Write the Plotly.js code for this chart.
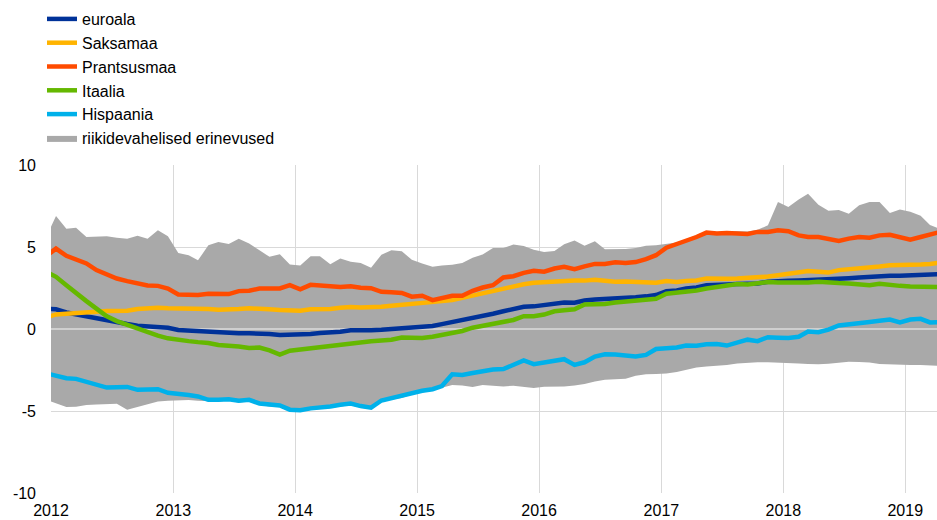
<!DOCTYPE html>
<html>
<head>
<meta charset="utf-8">
<script src="https://cdn.plot.ly/plotly-3.0.1.min.js"></script>
<style>
html,body{margin:0;padding:0;background:#fff;}
#chart{width:937px;height:520px;}
</style>
</head>
<body>
<div id="chart"></div>
<script>
// Monthly observations, December 2011 to April 2019 (plotted mid-month)
const firstMonth = [2011, 12];
const lastMonth = [2019, 4];

const seriesNames = ["euroala", "Saksamaa", "Prantsusmaa", "Itaalia", "Hispaania"];
const bandName = "riikidevahelised erinevused";

const euroala = [1.24,1.2,1.01,0.89,0.77,0.61,0.49,0.41,0.3,0.2,0.18,0.16,0.08,
 -0.06,-0.1,-0.16,-0.2,-0.22,-0.26,-0.26,-0.26,-0.26,-0.3,-0.36,-0.36,
 -0.34,-0.3,-0.25,-0.22,-0.17,-0.08,-0.1,-0.08,-0.05,0.0,0.06,0.1,
 0.16,0.18,0.3,0.42,0.55,0.63,0.8,0.93,1.08,1.22,1.36,1.38,
 1.44,1.55,1.62,1.6,1.74,1.8,1.82,1.84,1.88,1.93,1.99,2.07,
 2.31,2.35,2.47,2.53,2.67,2.67,2.72,2.74,2.74,2.78,2.88,2.94,
 2.94,2.96,2.98,2.98,3.02,3.06,3.1,3.14,3.18,3.24,3.24,3.24,
 3.26,3.28,3.3,3.34];

const saksamaa = [0.69,0.89,0.93,0.99,1.03,1.05,1.09,1.11,1.11,1.22,1.26,1.3,1.26,
 1.26,1.2,1.22,1.22,1.18,1.17,1.22,1.26,1.26,1.2,1.16,1.16,
 1.12,1.2,1.2,1.22,1.3,1.34,1.31,1.32,1.35,1.42,1.49,1.52,
 1.56,1.63,1.7,1.76,1.9,2.03,2.22,2.37,2.51,2.61,2.73,2.82,
 2.86,2.92,2.97,2.95,2.95,3.01,2.94,2.88,2.9,2.88,2.84,2.82,
 2.92,2.86,2.92,2.96,3.08,3.04,3.06,3.08,3.1,3.12,3.2,3.28,
 3.36,3.44,3.53,3.49,3.44,3.59,3.63,3.71,3.75,3.81,3.89,3.89,
 3.93,3.93,3.97,4.05];

const prantsusmaa = [4.42,4.9,4.46,4.26,4.0,3.59,3.34,3.08,2.92,2.78,2.65,2.63,2.47,
 2.1,2.07,2.07,2.15,2.17,2.13,2.31,2.33,2.47,2.47,2.47,2.67,
 2.42,2.69,2.66,2.61,2.56,2.6,2.51,2.49,2.27,2.24,2.2,1.97,
 2.03,1.76,1.86,2.03,2.03,2.33,2.53,2.67,3.14,3.22,3.42,3.55,
 3.49,3.69,3.79,3.65,3.82,3.97,3.97,4.07,4.02,4.08,4.26,4.5,
 4.96,5.17,5.37,5.61,5.88,5.82,5.86,5.86,5.8,5.92,5.92,6.02,
 5.96,5.71,5.61,5.61,5.47,5.37,5.51,5.61,5.57,5.71,5.75,5.61,
 5.45,5.61,5.75,5.92];

const itaalia = [3.5,3.18,2.67,2.17,1.7,1.24,0.78,0.48,0.25,0.0,-0.2,-0.41,-0.57,
 -0.68,-0.74,-0.8,-0.85,-0.98,-1.01,-1.07,-1.16,-1.13,-1.3,-1.56,-1.32,
 -1.24,-1.2,-1.1,-1.06,-1.0,-0.87,-0.82,-0.75,-0.7,-0.65,-0.52,-0.52,
 -0.55,-0.47,-0.36,-0.24,-0.12,0.08,0.2,0.3,0.38,0.55,0.78,0.78,
 0.88,1.08,1.14,1.2,1.5,1.52,1.52,1.62,1.66,1.7,1.76,1.84,
 2.15,2.21,2.33,2.35,2.47,2.57,2.67,2.74,2.72,2.8,2.86,2.84,
 2.82,2.8,2.84,2.88,2.82,2.8,2.78,2.74,2.67,2.76,2.67,2.63,
 2.59,2.59,2.57,2.55];

const hispaania = [-2.7,-2.82,-3.0,-3.04,-3.24,-3.38,-3.57,-3.55,-3.53,-3.71,-3.69,-3.67,-3.89,
 -3.93,-4.03,-4.11,-4.32,-4.32,-4.28,-4.38,-4.32,-4.54,-4.62,-4.66,-4.92,
 -4.95,-4.84,-4.8,-4.72,-4.62,-4.55,-4.7,-4.8,-4.36,-4.2,-4.1,-3.9,
 -3.77,-3.67,-3.48,-2.76,-2.8,-2.68,-2.55,-2.47,-2.44,-2.2,-1.92,-2.14,
 -2.05,-1.99,-1.84,-2.19,-2.03,-1.68,-1.54,-1.56,-1.6,-1.68,-1.58,-1.22,
 -1.18,-1.13,-1.01,-1.02,-0.93,-0.91,-1.01,-0.8,-0.65,-0.74,-0.5,-0.53,
 -0.55,-0.47,-0.16,-0.2,-0.04,0.22,0.27,0.32,0.43,0.5,0.58,0.4,
 0.58,0.62,0.4,0.42];

const bandMax = [5.55,6.89,6.12,6.18,5.61,5.65,5.65,5.57,5.51,5.69,5.51,6.02,5.65,
 4.64,4.5,4.19,5.1,5.31,5.19,5.51,5.21,4.8,4.4,4.56,3.93,
 3.87,4.44,4.44,3.95,4.3,4.1,4.03,3.74,4.52,4.8,4.74,4.22,
 3.99,3.8,3.87,3.92,4.02,4.35,4.55,4.94,4.94,5.15,5.06,4.83,
 4.7,4.75,5.17,5.4,5.07,5.35,4.86,4.86,4.88,4.94,5.07,5.11,
 5.18,5.27,5.47,5.71,5.98,5.92,5.96,5.96,5.95,6.05,6.32,7.74,
 7.44,7.9,8.25,7.57,7.21,7.26,7.03,7.54,7.74,7.74,7.07,7.28,
 7.15,6.9,6.34,6.1];

const bandMin = [-4.3,-4.54,-4.76,-4.74,-4.64,-4.6,-4.56,-4.56,-4.92,-4.75,-4.58,-4.42,-4.38,
 -4.35,-4.33,-4.38,-4.42,-4.42,-4.38,-4.48,-4.42,-4.64,-4.72,-4.76,-5.02,
 -5.05,-4.94,-4.9,-4.82,-4.72,-4.65,-4.8,-4.9,-4.46,-4.3,-4.2,-4.0,
 -3.87,-3.77,-3.58,-3.42,-3.45,-3.53,-3.42,-3.45,-3.5,-3.46,-3.55,-3.6,
 -3.52,-3.53,-3.5,-3.45,-3.36,-3.2,-3.1,-3.06,-3.04,-2.85,-2.76,-2.75,
 -2.72,-2.62,-2.5,-2.35,-2.28,-2.24,-2.2,-2.1,-2.05,-2.03,-2.02,-2.06,
 -2.08,-2.1,-2.13,-2.15,-2.12,-2.05,-2.0,-2.01,-2.05,-2.14,-2.17,-2.2,
 -2.19,-2.2,-2.22,-2.25];

const yTickVals = [-10, -5, 0, 5, 10];
const yTickText = ["-10", "-5", "0", "5", "10"];

const colors = ["#003299", "#FFB400", "#FF4B00", "#65B800", "#00B1EA"];
const bandColor = "#A9A9A9";

// month categories (mid-month dates)
function buildDates(start, end) {
  const out = [];
  let y = start[0], m = start[1];
  while (y < end[0] || (y === end[0] && m <= end[1])) {
    out.push(y + "-" + String(m).padStart(2, "0") + "-16");
    m++; if (m > 12) { m = 1; y++; }
  }
  return out;
}
const dates = buildDates(firstMonth, lastMonth);

const traces = [];
traces.push({
  x: dates, y: bandMin, type: "scatter", mode: "lines",
  line: {width: 0, color: bandColor}, showlegend: false, hoverinfo: "skip"
});
traces.push({
  x: dates, y: bandMax, type: "scatter", mode: "lines", fill: "tonexty",
  fillcolor: bandColor, line: {width: 0, color: bandColor},
  name: bandName, legendrank: 6
});
// zero line drawn over the band but under the series
traces.push({
  x: [dates[0], dates[dates.length - 1]], y: [0, 0], type: "scatter", mode: "lines",
  line: {width: 1.5, color: "#dcdcdc"}, showlegend: false, hoverinfo: "skip"
});
const allSeries = [euroala, saksamaa, prantsusmaa, itaalia, hispaania];
allSeries.forEach((vals, i) => {
  traces.push({
    x: dates, y: vals, type: "scatter", mode: "lines",
    name: seriesNames[i], legendrank: i + 1,
    line: {color: colors[i], width: 4.5}
  });
});

const layout = {
  width: 937, height: 520,
  margin: {l: 51, r: 0, t: 165, b: 27, pad: 0, autoexpand: false},
  paper_bgcolor: "#ffffff", plot_bgcolor: "#ffffff",
  font: {family: "Liberation Sans, Arial, sans-serif", size: 16, color: "#000000"},
  showlegend: true,
  legend: {
    xref: "container", yref: "container", x: 42 / 937, y: 1 - 2 / 520,
    xanchor: "left", yanchor: "top",
    traceorder: "normal", itemwidth: 30,
    font: {size: 16, color: "#000000"}, bgcolor: "rgba(0,0,0,0)"
  },
  xaxis: {
    type: "date", range: ["2012-01-01", "2019-04-06"],
    dtick: "M12", tick0: "2012-01-01", tickformat: "%Y",
    showgrid: true, gridcolor: "#d9d9d9", gridwidth: 1,
    zeroline: false, showline: false, ticks: "",
    ticklabelstandoff: 6,
    tickfont: {size: 16, color: "#000000"}
  },
  yaxis: {
    range: [-10, 10], tickvals: yTickVals, ticktext: yTickText,
    showgrid: true, gridcolor: "#d9d9d9", gridwidth: 1,
    zeroline: false, showline: false, ticks: "",
    ticklabelstandoff: 14,
    tickfont: {size: 16, color: "#000000"}
  },
  hovermode: false
};

Plotly.newPlot("chart", traces, layout, {displayModeBar: false, staticPlot: true});
</script>
</body>
</html>
